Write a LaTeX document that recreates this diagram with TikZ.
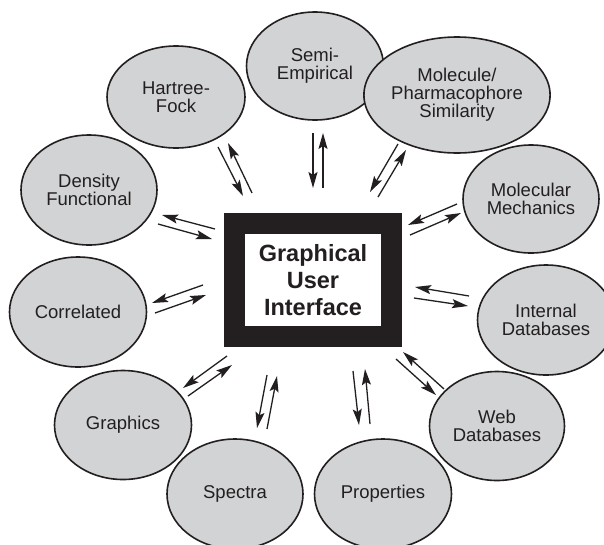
\documentclass[tikz,border=0pt]{standalone}
\usepackage{fontspec}
\setmainfont{Liberation Sans}
\usetikzlibrary{shapes.geometric,arrows.meta}
\definecolor{ellfill}{HTML}{D1D3D4}
\definecolor{ink}{HTML}{231F20}
\begin{document}
\begin{tikzpicture}[x=1pt,y=-1pt,
  topic/.style={ellipse, draw=ink, line width=1.6pt, fill=ellfill, inner sep=0pt,
    align=center, text=ink, font=\fontsize{18.5}{18}\selectfont},
  guibox/.style={rectangle, draw=ink, line width=21pt, fill=white, inner sep=0pt,
    minimum width=157pt, minimum height=113pt, align=center, text=ink,
    font=\fontsize{23.5}{27}\selectfont\bfseries},
  link/.style={draw=ink, line width=1.3pt, -{Stealth[length=16pt,width=9pt,inset=3pt]}}]
\clip (0,0) rectangle (604,544);
\fill[white] (0,0) rectangle (604,544);

% central box
\node[guibox] (gui) at (313,280) {Graphical\\User\\Interface};

% topic ellipses
\node[topic, minimum width=137pt, minimum height=108pt] (semi) at (315,66) {Semi-\\Empirical};
\node[topic, minimum width=138pt, minimum height=102pt] (hf) at (176,97) {Hartree-\\Fock};
\node[topic, minimum width=144pt, minimum height=116pt] (mol) at (457,95) {Molecule/\\Pharmacophore\\Similarity};
\node[topic, minimum width=136pt, minimum height=110pt] (df) at (89,190) {Density\\Functional};
\node[topic, minimum width=136pt, minimum height=108pt] (mm) at (531,199) {Molecular\\Mechanics};
\node[topic, minimum width=137pt, minimum height=110pt] (cor) at (78,312) {Correlated};
\node[topic, minimum width=137pt, minimum height=110pt] (idb) at (546,320) {Internal\\Databases};
\node[topic, minimum width=137pt, minimum height=109pt] (gfx) at (123,425) {Graphics};
\node[topic, minimum width=135pt, minimum height=109pt] (web) at (497,426) {Web\\Databases};
\node[topic, minimum width=136pt, minimum height=110pt] (spec) at (235,494) {Spectra};
\node[topic, minimum width=137pt, minimum height=110pt] (prop) at (383,494) {Properties};

% arrow end points
\coordinate (hfA1) at (218,147); \coordinate (hfA2) at (243,196);
\coordinate (hfB1) at (252,193); \coordinate (hfB2) at (228,143);
\coordinate (seA1) at (313,133); \coordinate (seA2) at (313,188);
\coordinate (seB1) at (323,188); \coordinate (seB2) at (323,133);
\coordinate (moA1) at (398,144); \coordinate (moA2) at (370,192);
\coordinate (moB1) at (378,197); \coordinate (moB2) at (406,150);
\coordinate (mmA1) at (457,204); \coordinate (mmA2) at (408,225);
\coordinate (mmB1) at (410,235); \coordinate (mmB2) at (461,213);
\coordinate (dfA1) at (215,229); \coordinate (dfA2) at (162,215);
\coordinate (dfB1) at (158,224); \coordinate (dfB2) at (212,239);
\coordinate (coA1) at (203,285); \coordinate (coA2) at (152,303);
\coordinate (coB1) at (155,313); \coordinate (coB2) at (206,295);
\coordinate (idA1) at (469,296); \coordinate (idA2) at (415,287);
\coordinate (idB1) at (414,298); \coordinate (idB2) at (468,306);
\coordinate (gfA1) at (227,356); \coordinate (gfA2) at (183,388);
\coordinate (gfB1) at (188,396); \coordinate (gfB2) at (232,365);
\coordinate (spA1) at (267,375); \coordinate (spA2) at (257,428);
\coordinate (spB1) at (267,429); \coordinate (spB2) at (277,376);
\coordinate (prA1) at (353,371); \coordinate (prA2) at (359,425);
\coordinate (prB1) at (370,424); \coordinate (prB2) at (365,369);
\coordinate (wbA1) at (396,359); \coordinate (wbA2) at (436,395);
\coordinate (wbB1) at (444,389); \coordinate (wbB2) at (403,352);

% arrows
\foreach \p in {hf,se,mo,mm,df,co,id,gf,sp,pr,wb}{
  \draw[link] (\p A1) -- (\p A2);
  \draw[link] (\p B1) -- (\p B2);
}
\end{tikzpicture}
\end{document}
